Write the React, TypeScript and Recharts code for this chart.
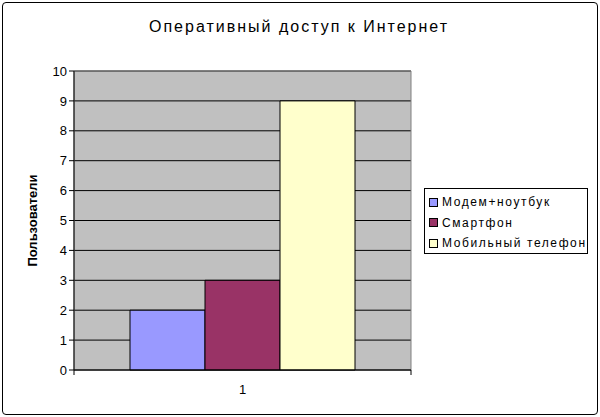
import { Bar, BarChart, CartesianGrid, ReferenceArea, XAxis, YAxis } from "recharts";

const categories = ["1"];
const modemNotebook = [2];
const smartphone = [3];
const mobilePhone = [9];
const yTicks = [0, 1, 2, 3, 4, 5, 6, 7, 8, 9, 10];

const seriesNames = ["Модем+ноутбук", "Смартфон", "Мобильный телефон"];
const seriesColors = ["#9999FF", "#993366", "#FFFFCC"];

const data = categories.map((c, i) => ({
  name: c,
  modem: modemNotebook[i],
  smart: smartphone[i],
  mobile: mobilePhone[i],
}));

const FONT = "'Liberation Sans', Arial, sans-serif";

function XTick(props: any) {
  const { x, y, payload } = props;
  const half = 168.5;
  return (
    <g>
      <line x1={x - half} y1={y - 8} x2={x - half} y2={y - 3} stroke="#000" />
      <line x1={x + half} y1={y - 8} x2={x + half} y2={y - 3} stroke="#000" />
      <text x={x} y={y + 16} textAnchor="middle" fontSize={13} fontFamily={FONT} fill="#000">
        {payload.value}
      </text>
    </g>
  );
}

function LegendBox() {
  return (
    <div
      style={{
        position: "absolute",
        left: 424,
        top: 188,
        border: "1px solid #000",
        background: "#fff",
        width: 164,
        height: 66,
        boxSizing: "border-box",
        padding: "3px 0 0 4px",
        fontFamily: FONT,
        fontSize: 12,
        letterSpacing: 1.6,
      }}
    >
      {seriesNames.map((n, i) => (
        <div key={n} style={{ display: "flex", alignItems: "center", height: 20.5 }}>
          <span
            style={{
              display: "inline-block",
              width: 7,
              height: 7,
              background: seriesColors[i],
              border: "1px solid #000",
              marginRight: 4,
            }}
          />
          <span>{n}</span>
        </div>
      ))}
    </div>
  );
}

export default function App() {
  return (
    <div style={{ position: "absolute", left: 0, top: 0, width: 600, height: 417, background: "#fff" }}>
      <div
        style={{
          position: "absolute",
          left: 2,
          top: 2,
          width: 594,
          height: 411,
          border: "1px solid #000",
          borderRadius: 4,
        }}
      />
      <div
        style={{
          position: "absolute",
          left: 0,
          top: 18,
          width: 598,
          textAlign: "center",
          fontFamily: FONT,
          fontSize: 16,
          letterSpacing: 2,
          color: "#000",
        }}
      >
        Оперативный доступ к Интернет
      </div>
      <BarChart
        width={600}
        height={417}
        data={data}
        margin={{ top: 71, right: 189, bottom: 0, left: 0 }}
        barCategoryGap={56}
        barGap={0}
        style={{ position: "absolute", left: 0, top: 0 }}
      >
        <CartesianGrid vertical={false} stroke="#000" fill="#C0C0C0" fillOpacity={1} />
        <ReferenceArea y1={0} y2={10} fill="none" stroke="#808080" strokeWidth={1} ifOverflow="visible" />
        <XAxis
          dataKey="name"
          height={47}
          axisLine={{ stroke: "#000" }}
          tickLine={false}
          tick={<XTick />}
        />
        <YAxis
          width={74}
          domain={[0, 10]}
          ticks={yTicks}
          interval={0}
          axisLine={{ stroke: "#000" }}
          tickLine={{ stroke: "#000" }}
          tickSize={5}
          tick={{ fontSize: 13, fontFamily: FONT, fill: "#000" }}
          label={{
            value: "Пользователи",
            angle: -90,
            position: "center",
            dx: -5,
            style: { fontSize: 13, fontWeight: "bold", fontFamily: FONT, fill: "#000" },
          }}
        />
        <Bar dataKey="modem" name={seriesNames[0]} fill={seriesColors[0]} stroke="#000" isAnimationActive={false} />
        <Bar dataKey="smart" name={seriesNames[1]} fill={seriesColors[1]} stroke="#000" isAnimationActive={false} />
        <Bar dataKey="mobile" name={seriesNames[2]} fill={seriesColors[2]} stroke="#000" isAnimationActive={false} />
      </BarChart>
      <LegendBox />
    </div>
  );
}
